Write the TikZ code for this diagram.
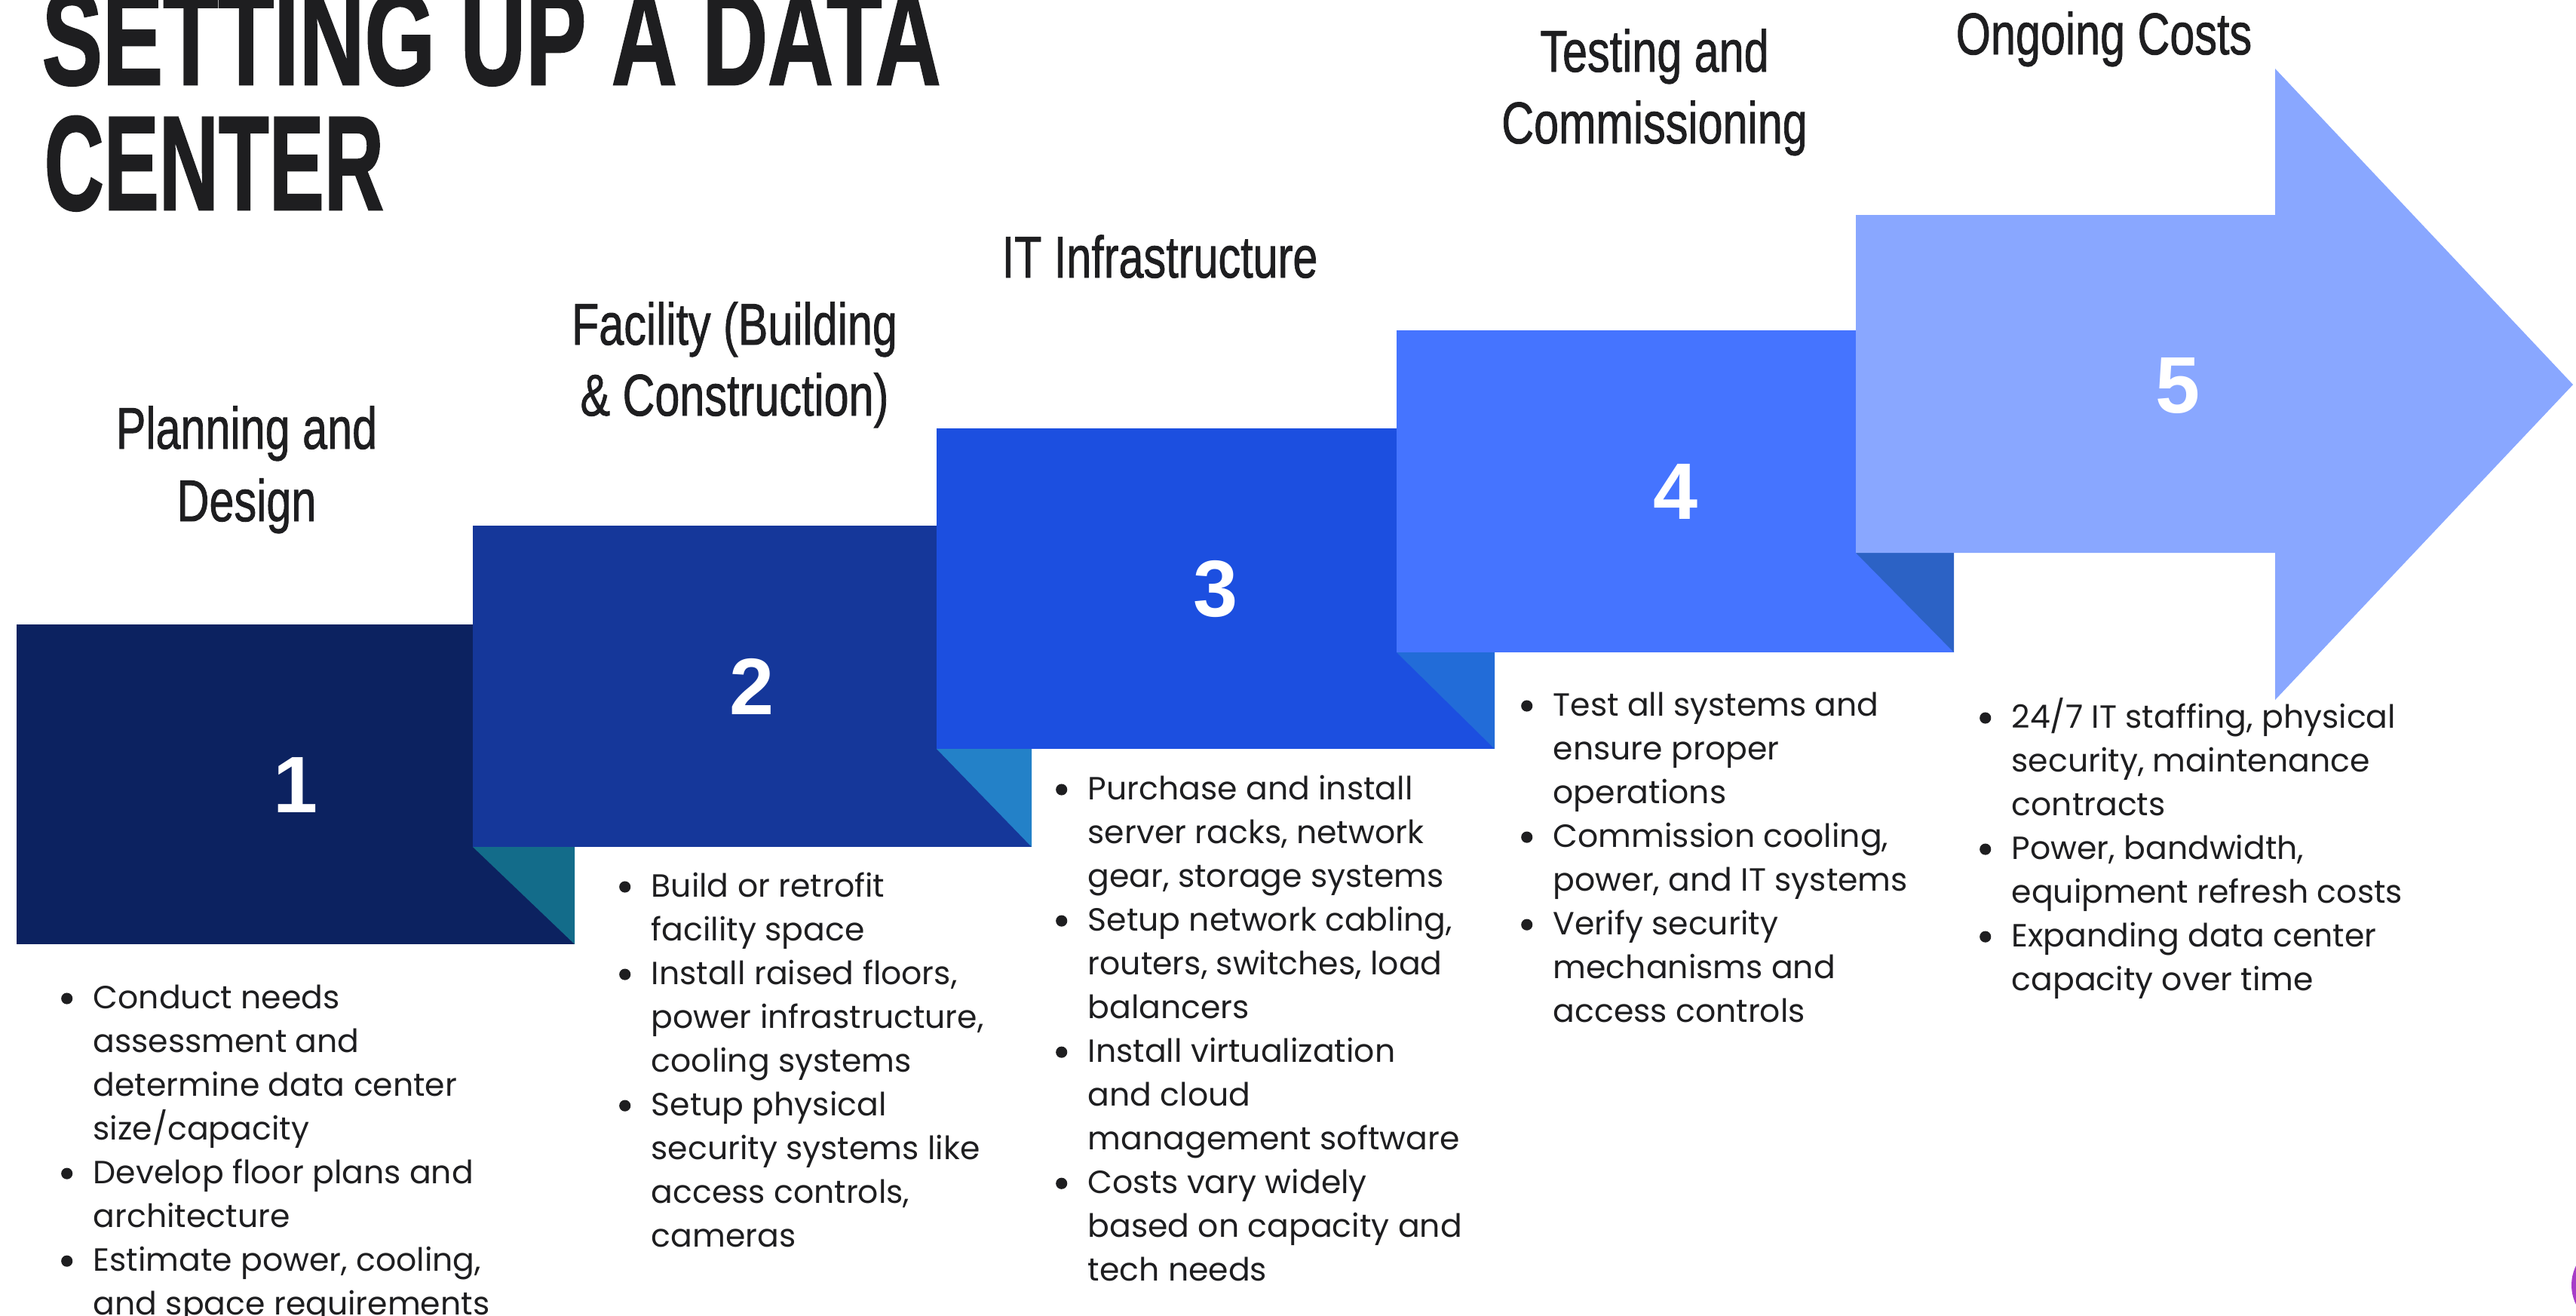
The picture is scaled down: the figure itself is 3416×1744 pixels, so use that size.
\documentclass[tikz,border=0pt]{standalone}
\usepackage{fontspec}
\usepackage{graphicx}
\setmainfont{Liberation Sans}
\newfontfamily\bul{Poppins}
\newfontfamily\hd{Liberation Sans}
\newfontfamily\hdb{Liberation Sans}[FakeBold=1.2]
\newfontfamily\bigt{Liberation Sans}[FakeBold=1.5]
\definecolor{ink}{HTML}{1E1E20}
\definecolor{cA}{HTML}{0C2260}
\definecolor{fA}{HTML}{136C8A}
\definecolor{cB}{HTML}{15379A}
\definecolor{fB}{HTML}{2381C8}
\definecolor{cC}{HTML}{1C4FE0}
\definecolor{fC}{HTML}{226CD8}
\definecolor{cD}{HTML}{4574FF}
\definecolor{fD}{HTML}{2C62C5}
\definecolor{cE}{HTML}{89A7FF}
\definecolor{logo}{HTML}{A63CC8}
\newcommand{\cnd}[1]{\scalebox{0.76}[1]{#1}}
\newcommand{\bit}{\leavevmode\llap{\tikz[baseline=0pt]\fill (0pt,3.7pt) circle (2.15pt);\hspace{7.8pt}}}
\newcommand{\lst}[1]{\parbox[t]{7cm}{\bul\fontsize{12.1}{16.5}\selectfont\raggedright #1\par}}
\begin{document}
\begin{tikzpicture}[x=0.01cm,y=-0.01cm,
  stt/.style={anchor=base, inner sep=0, text=ink, font=\hdb\fontsize{22.2}{27}\selectfont},
  num/.style={text=white, inner sep=0, font=\hd\bfseries\fontsize{30.2}{36}\selectfont},
  lstnode/.style={anchor=base west, inner sep=0, text=ink},
  ttl/.style={anchor=base west, inner sep=0, text=ink, font=\bigt}]
\useasboundingbox (0,0) rectangle (3416,1744);
\clip (0,0) rectangle (3416,1744);
% title
\node[ttl] (title1) at (55,112) {\resizebox{11.91cm}{1.24cm}{\bfseries SETTING UP A DATA}};
\node[ttl] (title2) at (58,278) {\resizebox{4.50cm}{1.24cm}{\bfseries CENTER}};
% steps
\fill[cA] (22,828) rectangle (762,1252);
\fill[fA] (627,1123) -- (762,1123) -- (762,1252) -- cycle;
\fill[cB] (627,697) rectangle (1368,1123);
\fill[fB] (1242,993) -- (1368,993) -- (1368,1123) -- cycle;
\fill[cC] (1242,568) rectangle (1982,993);
\fill[fC] (1852,865) -- (1982,865) -- (1982,993) -- cycle;
\fill[cD] (1852,438) rectangle (2591,865);
\fill[fD] (2461,733) -- (2591,733) -- (2591,865) -- cycle;
\fill[cE] (2461,285) -- (3017,285) -- (3017,91) -- (3412,510) -- (3017,928) -- (3017,733) -- (2461,733) -- cycle;
% numbers
\node[num] (n1) at (392,1041) {1};
\node[num] (n2) at (997,910) {2};
\node[num] (n3) at (1612,781) {3};
\node[num] (n4) at (2222,652) {4};
\node[num] (n5) at (2888,511) {5};
% stage titles
\node[stt] (t1a) at (327,595) {\cnd{Planning and}};
\node[stt] (t1b) at (327,691) {\cnd{Design}};
\node[stt] (t2a) at (974,457) {\cnd{Facility (Building}};
\node[stt] (t2b) at (974,551) {\cnd{\& Construction)}};
\node[stt] (t3) at (1538,368) {\cnd{IT Infrastructure}};
\node[stt] (t4a) at (2194,95) {\cnd{Testing and}};
\node[stt] (t4b) at (2194,190) {\cnd{Commissioning}};
\node[stt] (t5) at (2790,72) {\cnd{Ongoing Costs}};
% lists
\node[lstnode] (l1) at (123,1337) {\lst{%
\bit Conduct needs\\assessment and\\determine data center\\size/capacity\par
\bit Develop floor plans and\\architecture\par
\bit Estimate power, cooling,\\and space requirements}};
\node[lstnode] (l2) at (863,1189) {\lst{%
\bit Build or retrofit\\facility space\par
\bit Install raised floors,\\power infrastructure,\\cooling systems\par
\bit Setup physical\\security systems like\\access controls,\\cameras}};
\node[lstnode] (l3) at (1442,1060) {\lst{%
\bit Purchase and install\\server racks, network\\gear, storage systems\par
\bit Setup network cabling,\\routers, switches, load\\balancers\par
\bit Install virtualization\\and cloud\\management software\par
\bit Costs vary widely\\based on capacity and\\tech needs}};
\node[lstnode] (l4) at (2059,949) {\lst{%
\bit Test all systems and\\ensure proper\\operations\par
\bit Commission cooling,\\power, and IT systems\par
\bit Verify security\\mechanisms and\\access controls}};
\node[lstnode] (l5) at (2667,965) {\lst{%
\bit 24/7 IT staffing, physical\\security, maintenance\\contracts\par
\bit Power, bandwidth,\\equipment refresh costs\par
\bit Expanding data center\\capacity over time}};
% corner logo
\fill[logo] (3469,1704) circle (59);
\end{tikzpicture}
\end{document}
